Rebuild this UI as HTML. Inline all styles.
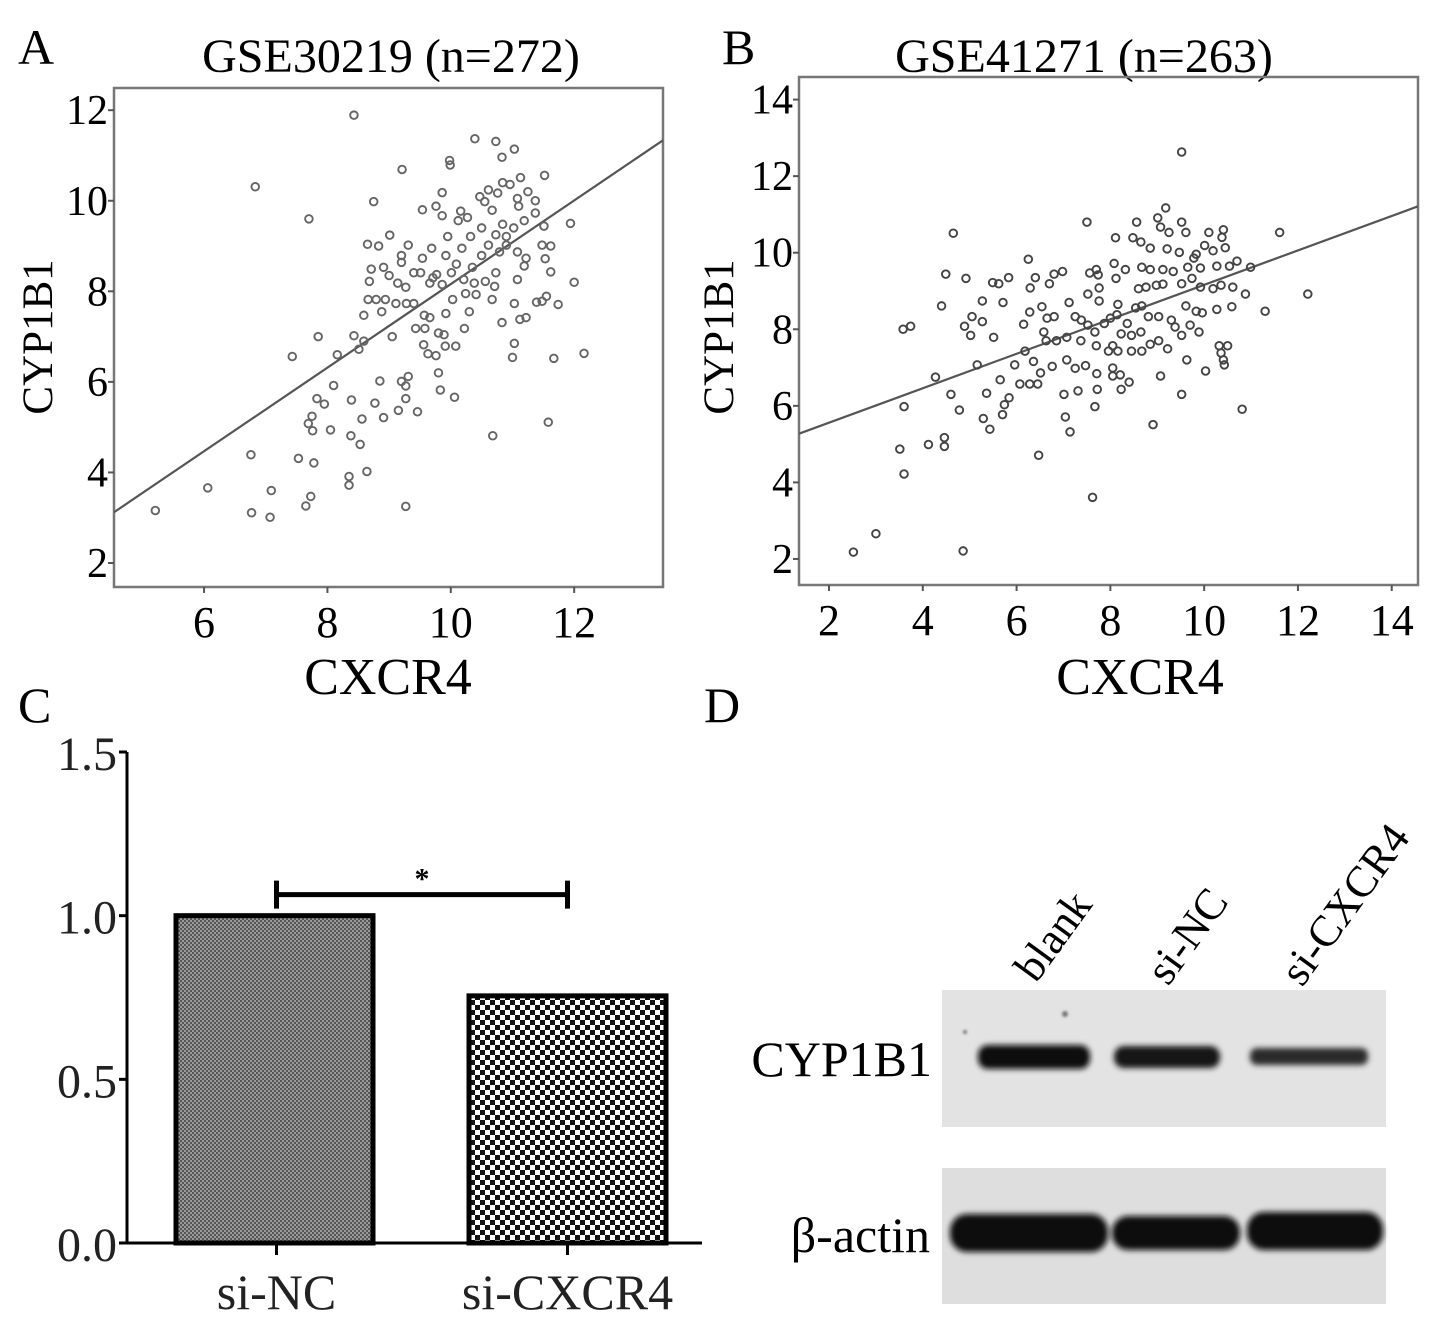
<!DOCTYPE html>
<html><head><meta charset="utf-8"><style>
html,body{margin:0;padding:0;background:#fff;}
svg{display:block;font-family:"Liberation Serif",serif;}
</style></head><body>
<svg id="fig" width="1441" height="1325" viewBox="0 0 1441 1325" xmlns="http://www.w3.org/2000/svg">
<defs>
<pattern id="patFine" width="4" height="4" patternUnits="userSpaceOnUse">
<rect width="4" height="4" fill="#9a9a9a"/><rect width="2" height="2" fill="#555"/><rect x="2" y="2" width="2" height="2" fill="#555"/>
</pattern>
<pattern id="patCoarse" width="10" height="10" patternUnits="userSpaceOnUse">
<rect width="10" height="10" fill="#fff"/><rect width="5" height="5" fill="#111"/><rect x="5" y="5" width="5" height="5" fill="#111"/>
</pattern>
<filter id="blur3"><feGaussianBlur stdDeviation="3"/></filter>
<filter id="blur1"><feGaussianBlur stdDeviation="1.2"/></filter>
</defs>

<text x="18" y="64" font-size="50">A</text>
<text x="722" y="64" font-size="50">B</text>
<text x="18" y="722" font-size="50">C</text>
<text x="704" y="722" font-size="50">D</text>
<text x="391" y="72" font-size="48" text-anchor="middle">GSE30219 (n=272)</text>
<text x="1084" y="72" font-size="48" text-anchor="middle">GSE41271 (n=263)</text>

<g id="panelA"></g>
<g id="panelB"></g>
<g id="panelC"></g>

<text x="388" y="694" font-size="52" text-anchor="middle">CXCR4</text>
<text transform="translate(52,337) rotate(-90)" font-size="43" text-anchor="middle">CYP1B1</text>
<text x="1140" y="694" font-size="52" text-anchor="middle">CXCR4</text>
<text transform="translate(733,337) rotate(-90)" font-size="43" text-anchor="middle">CYP1B1</text>

<g>
<text transform="translate(1036,984) rotate(-54)" font-size="44">blank</text>
<text transform="translate(1168,987) rotate(-54)" font-size="44">si-NC</text>
<text transform="translate(1302,988) rotate(-54)" font-size="44">si-CXCR4</text>
<text x="932" y="1076" font-size="50" text-anchor="end">CYP1B1</text>
<text x="930" y="1252" font-size="50" text-anchor="end">β-actin</text>
<rect x="942" y="990" width="444" height="137" fill="#e3e3e3"/>
<rect x="942" y="1168" width="444" height="136" fill="#dedede"/>
<g filter="url(#blur3)">
<rect x="978" y="1045" width="112" height="24" rx="10" fill="#111"/>
<rect x="1114" y="1046" width="106" height="22" rx="10" fill="#151515"/>
<rect x="1250" y="1048" width="118" height="17" rx="7" fill="#2a2a2a"/>
<rect x="950" y="1214" width="158" height="38" rx="17" fill="#0a0a0a"/>
<rect x="1112" y="1216" width="128" height="34" rx="16" fill="#0d0d0d"/>
<rect x="1247" y="1212" width="136" height="38" rx="17" fill="#0a0a0a"/>
</g>
<g filter="url(#blur1)" fill="#777">
<circle cx="1065" cy="1014" r="3"/><circle cx="965" cy="1032" r="2"/>
</g>
</g>
</svg>
<script>
// ---------- Panel A data (GSE30219) ----------
const aX = [8.43,6.83,7.70,9.21,10.39,10.73,11.03,10.83,9.98,9.99,11.52,11.13,8.75,9.86,9.54,11.94,12.0,12.16,11.67,11.58,10.68,5.21,6.06,6.76,6.77,7.07,7.09,7.53,7.78,7.65,7.73,8.35,8.35,8.64,9.27,8.38,8.53,8.05,7.76,7.69,7.75,7.83,7.95,8.10,8.39,8.56,8.77,8.91,9.15,9.27,9.46,8.85,9.20,9.31,9.27,9.80,9.83,10.06,7.43,7.85,8.16,8.43,8.51,8.59,9.05,8.59,9.56,9.63,9.76,9.91,10.08,9.58,9.43,9.80,9.89,11.0,11.03,10.83,11.12,11.22,11.03,11.39,11.55,11.74,10.67,10.22,10.30,10.03,9.92,9.57,9.66,10.41,10.24,8.88,8.66,8.79,8.94,9.11,9.28,9.40,8.68,8.71,8.91,9.0,9.14,9.27,9.20,9.2,8.65,8.83,9.31,9.01,9.40,9.54,9.69,9.66,9.77,9.86,9.92,9.95,9.76,9.86,10.16,10.12,10.27,10.32,10.18,10.09,10.35,10.5,10.47,10.61,10.55,10.67,10.76,10.84,10.96,11.08,11.25,11.37,11.1,11.37,11.19,11.51,11.02,10.84,10.73,10.9,10.5,10.61,10.79,10.9,11.08,11.22,11.19,11.08,10.73,10.71,10.56,11.48,11.62,11.53,11.62,11.48,10.38,10.21,10.01,9.51,9.71];
const aY = [11.89,10.31,9.6,10.69,11.37,11.31,11.14,10.96,10.89,10.79,10.56,10.51,9.98,10.18,9.80,9.50,8.20,6.63,6.52,5.11,4.81,3.16,3.66,4.39,3.11,3.01,3.60,4.31,4.21,3.26,3.47,3.91,3.72,4.02,3.25,4.81,4.62,4.94,4.92,5.08,5.24,5.63,5.51,5.92,5.60,5.18,5.53,5.21,5.37,5.63,5.34,6.02,6.01,6.12,5.91,6.20,5.82,5.66,6.56,7.0,6.60,7.02,6.72,6.90,7.0,7.47,6.82,6.62,6.58,6.79,6.79,7.18,7.18,7.08,7.04,6.54,6.85,7.31,7.38,7.42,7.73,7.76,7.89,7.71,7.82,7.18,7.55,7.82,7.51,7.47,7.42,7.93,7.95,7.55,7.82,7.82,7.82,7.73,7.73,7.73,8.22,8.49,8.53,8.35,8.18,8.09,8.79,8.64,9.04,9.0,9.02,9.24,8.41,8.73,8.95,8.18,8.37,8.15,8.79,9.21,9.88,9.67,9.77,9.56,9.63,9.21,8.95,8.60,8.53,8.79,10.09,10.24,9.98,9.79,10.17,10.4,10.36,10.05,10.2,10.0,9.88,9.73,9.56,9.44,9.40,9.48,9.25,9.21,9.4,9.02,8.87,9.02,8.87,8.73,8.56,8.26,8.41,8.11,8.22,9.02,9.0,8.72,8.43,7.78,8.18,8.26,8.41,8.41,8.3];
const aXTicks = [6,8,10,12];
const aYTicks = [2,4,6,8,10,12];
const aFit = [0.923,-1.07];

// ---------- Panel B data (GSE41271) ----------
const bX = [9.52,9.18,9.01,9.52,7.50,8.56,4.65,11.61,9.07,9.25,9.61,10.10,10.41,10.01,10.19,10.45,10.38,8.48,8.65,8.85,8.11,9.21,9.47,9.83,9.78,6.25,8.08,8.32,8.67,8.85,9.12,9.34,9.65,9.92,10.27,10.54,10.70,10.99,4.49,4.92,5.49,5.62,5.83,6.29,6.40,6.70,6.80,6.98,7.56,7.70,7.74,7.76,8.12,8.60,8.76,8.98,9.12,9.52,9.74,9.92,10.19,10.36,10.61,10.88,12.21,4.40,5.27,5.71,7.52,7.76,7.12,6.54,6.28,6.80,6.65,6.15,5.05,5.27,4.89,5.02,3.58,3.74,5.51,6.58,6.63,6.85,7.07,7.25,7.38,7.52,7.37,7.67,7.87,8.0,8.14,8.16,8.36,8.54,8.67,8.81,9.03,9.30,9.38,9.70,9.83,9.96,10.27,10.59,11.30,9.61,9.89,9.52,8.65,8.45,8.23,8.05,7.70,7.96,8.16,8.45,8.67,8.85,9.03,9.22,9.63,10.32,10.50,10.36,10.41,10.43,6.18,6.36,5.96,5.16,4.27,6.76,7.07,7.25,7.47,7.71,8.05,8.05,8.21,8.40,8.23,6.51,6.45,6.07,6.28,5.65,7.72,7.31,7.01,9.07,10.03,9.52,4.60,5.36,5.84,5.74,3.60,4.78,5.70,5.29,5.43,7.67,7.04,7.14,8.91,10.81,3.51,4.12,4.46,4.46,3.60,6.47,7.62,3.0,2.52,4.86];
const bY = [12.63,11.17,10.91,10.80,10.80,10.80,10.51,10.53,10.67,10.53,10.53,10.53,10.60,10.19,10.05,10.13,10.40,10.39,10.28,10.12,10.39,10.10,10.01,9.96,9.86,9.83,9.72,9.56,9.62,9.56,9.56,9.51,9.62,9.60,9.65,9.65,9.78,9.62,9.44,9.33,9.22,9.19,9.35,9.08,9.35,9.19,9.44,9.51,9.47,9.56,9.42,9.08,9.33,9.06,9.10,9.15,9.18,9.19,9.33,9.10,9.06,9.15,9.10,8.92,8.92,8.61,8.74,8.70,8.92,8.74,8.70,8.59,8.45,8.33,8.29,8.13,8.33,8.20,8.08,7.84,8.00,8.08,7.79,7.93,7.70,7.70,7.79,8.33,8.24,8.11,7.70,7.93,8.15,8.29,8.38,8.65,8.15,8.56,8.61,8.33,8.33,8.24,8.06,8.11,8.47,8.43,8.52,8.59,8.47,8.61,7.93,7.84,7.93,7.84,7.88,7.57,7.57,7.43,7.43,7.43,7.43,7.61,7.70,7.49,7.20,7.57,7.57,7.38,7.20,7.07,7.43,7.16,7.07,7.07,6.75,7.03,7.20,6.98,7.05,6.84,6.99,6.78,6.81,6.62,6.43,6.86,6.57,6.57,6.57,6.68,6.43,6.39,6.30,6.78,6.91,6.30,6.30,6.33,6.21,6.03,5.98,5.89,5.77,5.67,5.39,5.98,5.71,5.32,5.51,5.91,4.87,4.99,5.17,4.94,4.22,4.71,3.61,2.66,2.18,2.21];
const bXTicks = [2,4,6,8,10,12,14];
const bYTicks = [2,4,6,8,10,12,14];
const bFit = [0.45,4.66];

// ---------- Panel C data ----------
const cCategories = ["si-NC","si-CXCR4"];
const cValues = [1.0,0.755];
const cYTicks = ["0.0","0.5","1.0","1.5"];

const NS = "http://www.w3.org/2000/svg";
function mk(parent, tag, attrs){
  const e = document.createElementNS(NS, tag);
  for (const k in attrs) e.setAttribute(k, attrs[k]);
  parent.appendChild(e);
  return e;
}

function scatter(gid, box, dom, xs, ys, xt, yt, fit, key, pointColor){
  const g = document.getElementById(gid);
  const sx = v => box.l + (v - dom.x0) / (dom.x1 - dom.x0) * (box.r - box.l);
  const sy = v => box.b - (v - dom.y0) / (dom.y1 - dom.y0) * (box.b - box.t);
  const frame = mk(g, "rect", {x:box.l, y:box.t, width:box.r-box.l, height:box.b-box.t, fill:"none", stroke:"#777", "stroke-width":2.5});
  
  
  xt.forEach(v => {
    const x = sx(v);
    const tk = mk(g, "line", {x1:x, x2:x, y1:box.b, y2:box.b+6, stroke:"#555", "stroke-width":2});
    
    
    const t = mk(g, "text", {x:x, y:box.b+50, "font-size":44, "text-anchor":"middle"});
    t.textContent = v;
    
    
  });
  yt.forEach(v => {
    const y = sy(v);
    const tk = mk(g, "line", {x1:box.l-6, x2:box.l, y1:y, y2:y, stroke:"#555", "stroke-width":2});
    
    
    const t = mk(g, "text", {x:box.l-6, y:y+14, "font-size":42, "text-anchor":"end"});
    t.textContent = v;
    
    
  });
  const clipId = "clip" + key;
  const cp = mk(g, "clipPath", {id:clipId});
  mk(cp, "rect", {x:box.l, y:box.t, width:box.r-box.l, height:box.b-box.t});
  const ln = mk(g, "line", {x1:sx(dom.x0), y1:sy(fit[0]*dom.x0+fit[1]), x2:sx(dom.x1), y2:sy(fit[0]*dom.x1+fit[1]), stroke:"#555", "stroke-width":2.2, "clip-path":"url(#"+clipId+")"});
  
  
  for (let i = 0; i < xs.length; i++){
    const c = mk(g, "circle", {cx:sx(xs[i]), cy:sy(ys[i]), r:3.8, fill:"none", stroke:pointColor, "stroke-width":1.9});
    
    
  }
}

scatter("panelA", {l:114,r:663,t:88,b:587}, {x0:4.54,x1:13.44,y0:1.47,y1:12.49}, aX, aY, aXTicks, aYTicks, aFit, "a", "#666");
scatter("panelB", {l:799,r:1418,t:77,b:585}, {x0:1.36,x1:14.56,y0:1.32,y1:14.59}, bX, bY, bXTicks, bYTicks, bFit, "b", "#444");

(function(){
  const g = document.getElementById("panelC");
  const axX = 127, y0 = 1243, ymax = 1.5, yTop = 752;
  const sy = v => y0 - v / ymax * (y0 - yTop);
  const bandL = [176, 469], bandW = 197;
  const fills = ["url(#patFine)","url(#patCoarse)"];
  const ax = mk(g, "line", {x1:axX, x2:axX, y1:yTop, y2:y0, stroke:"#000", "stroke-width":3});
  
  
  const xa = mk(g, "line", {x1:axX-6, x2:702, y1:y0, y2:y0, stroke:"#000", "stroke-width":3});
  
  
  cYTicks.forEach(s => {
    const v = parseFloat(s), y = sy(v);
    const tk = mk(g, "line", {x1:axX-8, x2:axX, y1:y, y2:y, stroke:"#000", "stroke-width":3});
    
    
    const t = mk(g, "text", {x:axX-10, y:y+18, "font-size":48, "text-anchor":"end", fill:"#222"});
    t.textContent = s;
    
    
  });
  cValues.forEach((v, i) => {
    const r = mk(g, "rect", {x:bandL[i], y:sy(v), width:bandW, height:y0-sy(v), fill:fills[i], stroke:"#000", "stroke-width":5});
    
    
    const cx = bandL[i] + bandW/2 + (i===0?2:0);
    const tk = mk(g, "line", {x1:cx, x2:cx, y1:y0, y2:y0+12, stroke:"#000", "stroke-width":3});
    
    
    const t = mk(g, "text", {x:cx, y:y0+66, "font-size":50, "text-anchor":"middle", fill:"#222"});
    t.textContent = cCategories[i];
    
    
  });
  const xA = bandL[0] + bandW/2 + 2, xB = bandL[1] + bandW/2;
  const by = sy(cValues[0]) - 21;
  const br = mk(g, "path", {d:"M"+xA+" "+(by-14)+"V"+(by+14)+"M"+xA+" "+by+"H"+xB+"M"+xB+" "+(by-14)+"V"+(by+14), stroke:"#000", "stroke-width":5, fill:"none"});
  
  
  const st = mk(g, "text", {x:(xA+xB)/2, y:by-6, "font-size":30, "text-anchor":"middle", "font-weight":"bold"});
  st.textContent = "*";
  
  
})();
</script>
</body></html>
